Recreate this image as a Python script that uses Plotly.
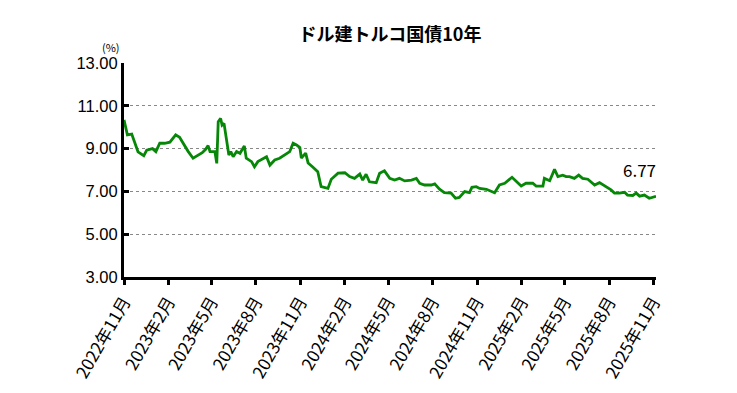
import plotly.graph_objects as go

dates = [
    "2022-11-01", "2022-11-08", "2022-11-17", "2022-11-24", "2022-11-30", "2022-12-12", "2022-12-18", "2022-12-30",
    "2023-01-06", "2023-01-14", "2023-01-24", "2023-02-04", "2023-02-16", "2023-02-24", "2023-03-03", "2023-03-14",
    "2023-03-24", "2023-04-03", "2023-04-12", "2023-04-19", "2023-04-24", "2023-04-28", "2023-05-08", "2023-05-12",
    "2023-05-15", "2023-05-20", "2023-05-23", "2023-05-27", "2023-06-01", "2023-06-06", "2023-06-10", "2023-06-15",
    "2023-06-22", "2023-06-29", "2023-07-08", "2023-07-12", "2023-07-23", "2023-07-29", "2023-08-05", "2023-08-16",
    "2023-08-23", "2023-08-30", "2023-09-09", "2023-09-19", "2023-09-30", "2023-10-10", "2023-10-17", "2023-10-24",
    "2023-10-31", "2023-11-03", "2023-11-12", "2023-11-17", "2023-11-26", "2023-12-07", "2023-12-14", "2023-12-28",
    "2024-01-04", "2024-01-11", "2024-01-18", "2024-02-01", "2024-02-11", "2024-02-21", "2024-03-03", "2024-03-09",
    "2024-03-16", "2024-03-23", "2024-04-06", "2024-04-13", "2024-04-23", "2024-05-04", "2024-05-14", "2024-05-24",
    "2024-06-04", "2024-06-18", "2024-06-28", "2024-07-05", "2024-07-15", "2024-07-29", "2024-08-05", "2024-08-15",
    "2024-08-25", "2024-09-08", "2024-09-17", "2024-09-25", "2024-10-06", "2024-10-16", "2024-10-21", "2024-10-30",
    "2024-11-06", "2024-11-20", "2024-11-30", "2024-12-07", "2024-12-17", "2024-12-28", "2025-01-12", "2025-01-21",
    "2025-01-31", "2025-02-10", "2025-02-24", "2025-03-03", "2025-03-17", "2025-03-20", "2025-03-31", "2025-04-10",
    "2025-04-17", "2025-04-27", "2025-05-04", "2025-05-11", "2025-05-21", "2025-05-30", "2025-06-07", "2025-06-18",
    "2025-07-02", "2025-07-12", "2025-07-26", "2025-08-05", "2025-08-12", "2025-08-22", "2025-09-02", "2025-09-08",
    "2025-09-19", "2025-09-26", "2025-10-03", "2025-10-13", "2025-10-23", "2025-10-30", "2025-11-06",
]
yields = [
    10.34, 9.64, 9.68, 9.25, 8.85, 8.67, 8.93, 9.00,
    8.86, 9.25, 9.25, 9.30, 9.64, 9.53, 9.25, 8.86,
    8.55, 8.70, 8.81, 8.97, 9.14, 8.86, 8.86, 8.31,
    10.26, 10.41, 10.10, 10.18, 9.48, 8.70, 8.86, 8.62,
    8.86, 8.78, 9.12, 8.55, 8.39, 8.15, 8.39, 8.55,
    8.62, 8.23, 8.47, 8.55, 8.70, 8.86, 9.25, 9.17,
    9.05, 8.56, 8.79, 8.33, 8.15, 7.92, 7.22, 7.14,
    7.57, 7.69, 7.85, 7.87, 7.69, 7.61, 7.81, 7.53,
    7.80, 7.45, 7.41, 7.85, 7.96, 7.61, 7.53, 7.61,
    7.49, 7.53, 7.61, 7.38, 7.30, 7.30, 7.35, 7.10,
    6.94, 6.92, 6.68, 6.72, 6.99, 6.94, 7.19, 7.22,
    7.14, 7.10, 6.99, 6.94, 7.30, 7.38, 7.66, 7.45,
    7.25, 7.38, 7.38, 7.25, 7.25, 7.61, 7.50, 8.03,
    7.69, 7.76, 7.69, 7.69, 7.61, 7.76, 7.61, 7.57,
    7.30, 7.41, 7.22, 7.07, 6.92, 6.92, 6.96, 6.83,
    6.81, 6.92, 6.78, 6.83, 6.68, 6.72, 6.77,
]

tick_dates = [
    "2022-11-01", "2023-02-01", "2023-05-01", "2023-08-01", "2023-11-01", "2024-02-01", "2024-05-01",
    "2024-08-01", "2024-11-01", "2025-02-01", "2025-05-01", "2025-08-01", "2025-11-01",
]
tick_labels = [
    "2022年11月", "2023年2月", "2023年5月", "2023年8月", "2023年11月", "2024年2月", "2024年5月",
    "2024年8月", "2024年11月", "2025年2月", "2025年5月", "2025年8月", "2025年11月",
]
y_ticks = [3, 5, 7, 9, 11, 13]

title_text = "ドル建トルコ国債10年"
unit_text = "(%)"
last_label = f"{yields[-1]:.2f}"

font_family = "Noto Sans CJK JP, Liberation Sans, sans-serif"

W, H = 737, 393
L, R, T, B = 116, 89, 55, 124

fig = go.Figure()
fig.add_trace(go.Scatter(
    x=dates, y=yields, mode="lines",
    line=dict(color="#078707", width=2.8),
    showlegend=False, hoverinfo="skip",
))

fig.add_annotation(
    x=dates[-1], y=yields[-1], xref="x", yref="y",
    text=last_label, showarrow=False,
    xanchor="right", yanchor="bottom", yshift=12, xshift=2,
    font=dict(size=17, color="black", family=font_family),
)
fig.add_annotation(
    x=0, y=1, xref="paper", yref="paper",
    text=unit_text, showarrow=False,
    xanchor="right", yanchor="bottom", xshift=-2, yshift=6,
    font=dict(size=11, color="black", family=font_family),
)

fig.update_layout(
    width=W, height=H,
    margin=dict(l=L, r=R, t=T, b=B, autoexpand=False),
    paper_bgcolor="white", plot_bgcolor="white",
    title=dict(
        text=f"<b>{title_text}</b>", x=(L + (W - R)) / 2 / W, xanchor="center",
        y=1 - 27 / H, yanchor="middle",
        font=dict(size=18, color="black", family=font_family),
    ),
    font=dict(family=font_family, color="black"),
)

fig.update_xaxes(
    range=["2022-11-01", dates[-1]],
    tickvals=tick_dates, ticktext=tick_labels, tickangle=-60,
    tickfont=dict(size=17, color="black", family=font_family),
    showline=True, linecolor="black", linewidth=3,
    ticks="outside", ticklen=5, tickwidth=3, tickcolor="black",
    showgrid=False, zeroline=False, automargin=False,
)
fig.update_yaxes(
    range=[3, 13], tickvals=y_ticks, tickformat=".2f",
    tickfont=dict(size=16.5, color="black", family="Liberation Sans, Arial, sans-serif"),
    showline=True, linecolor="black", linewidth=3,
    ticks="inside", ticklen=5, tickwidth=3, tickcolor="black",
    showgrid=True, gridcolor="#888888", gridwidth=1, griddash="dot",
    zeroline=False, automargin=False,
)

fig.write_html("out.html")
